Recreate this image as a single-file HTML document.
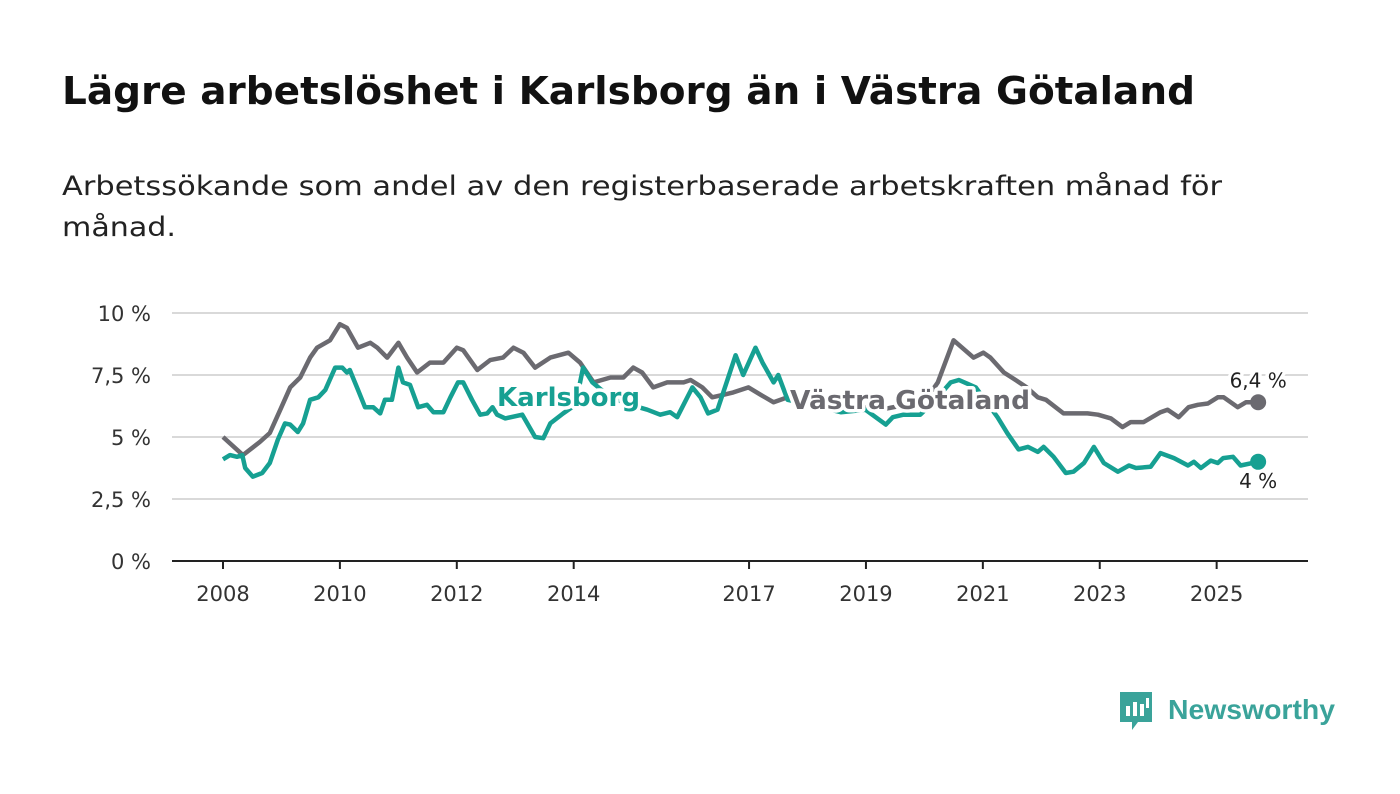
<!DOCTYPE html>
<html><head><meta charset="utf-8">
<style>
body{margin:0;background:#fff;width:1400px;height:794px;overflow:hidden;font-family:"DejaVu Sans","Liberation Sans",sans-serif;}
svg{position:absolute;left:0;top:0}
</style></head>
<body>
<svg width="1400" height="794" font-family="DejaVu Sans, Liberation Sans, sans-serif">
<text x="62" y="104" font-size="38" font-weight="bold" fill="#111" textLength="1133" lengthAdjust="spacingAndGlyphs">Lägre arbetslöshet i Karlsborg än i Västra Götaland</text>
<text x="62" y="195" font-size="27" fill="#222" textLength="1160" lengthAdjust="spacingAndGlyphs">Arbetssökande som andel av den registerbaserade arbetskraften månad för</text>
<text x="62" y="236" font-size="27" fill="#222" textLength="114" lengthAdjust="spacingAndGlyphs">månad.</text>
<g id="grid"></g><g id="xaxis"></g><g id="lines"></g><g id="labels"></g>
<g>
<path d="M1120 692h32v30h-14l-6 8v-8h-12z" fill="#3aa39a"/>
<rect x="1126" y="706" width="4" height="10" fill="#fff"/><rect x="1133" y="702" width="4" height="14" fill="#fff"/><rect x="1140" y="704" width="4" height="12" fill="#fff"/><rect x="1146" y="698" width="3" height="10" fill="#fff"/>
<text x="1168" y="719" font-size="28" font-weight="bold" fill="#3aa39a" textLength="167" lengthAdjust="spacingAndGlyphs" font-family="Liberation Sans, sans-serif">Newsworthy</text>
</g>
</svg>
<script>
const yTicks=[0,2.5,5,7.5,10];
const yTickLabels=["0 %","2,5 %","5 %","7,5 %","10 %"];
const xTicks=[2008,2010,2012,2014,2017,2019,2021,2023,2025];
const vgDates=[2008.0,2008.34,2008.63,2008.80,2008.98,2009.15,2009.32,2009.49,2009.61,2009.83,2010.0,2010.12,2010.31,2010.52,2010.64,2010.81,2011.0,2011.15,2011.32,2011.54,2011.77,2012.0,2012.11,2012.35,2012.57,2012.79,2012.97,2013.14,2013.34,2013.60,2013.91,2014.11,2014.34,2014.63,2014.85,2015.02,2015.17,2015.36,2015.60,2015.88,2016.0,2016.20,2016.37,2016.56,2016.73,2016.99,2017.20,2017.42,2017.66,2018.05,2018.57,2018.99,2019.25,2019.68,2020.02,2020.23,2020.50,2020.84,2021.01,2021.13,2021.36,2021.56,2021.75,2021.94,2022.08,2022.38,2022.79,2022.97,2023.19,2023.39,2023.53,2023.75,2024.04,2024.16,2024.35,2024.52,2024.68,2024.85,2025.02,2025.12,2025.36,2025.50,2025.71];
const vgValues=[5.0,4.27,4.8,5.16,6.1,7.0,7.4,8.2,8.6,8.9,9.55,9.4,8.6,8.8,8.6,8.2,8.8,8.2,7.6,8.0,8.0,8.6,8.5,7.7,8.1,8.2,8.6,8.4,7.8,8.2,8.4,8.0,7.2,7.4,7.4,7.8,7.6,7.0,7.2,7.2,7.3,7.0,6.6,6.7,6.8,7.0,6.7,6.4,6.6,6.3,6.2,6.2,6.1,6.3,6.5,7.2,8.9,8.2,8.4,8.2,7.6,7.3,7.0,6.6,6.5,5.95,5.95,5.9,5.75,5.4,5.6,5.6,6.0,6.1,5.8,6.2,6.3,6.35,6.6,6.6,6.2,6.4,6.4];
const kbDates=[2008.0,2008.12,2008.24,2008.33,2008.38,2008.51,2008.67,2008.80,2008.94,2009.06,2009.15,2009.28,2009.37,2009.49,2009.63,2009.75,2009.92,2010.04,2010.12,2010.17,2010.31,2010.43,2010.57,2010.69,2010.77,2010.89,2011.0,2011.08,2011.20,2011.34,2011.49,2011.60,2011.77,2011.89,2012.02,2012.11,2012.26,2012.40,2012.52,2012.61,2012.69,2012.83,2013.12,2013.34,2013.48,2013.60,2013.82,2014.03,2014.16,2014.32,2014.63,2014.97,2015.26,2015.48,2015.65,2015.77,2016.03,2016.17,2016.30,2016.46,2016.63,2016.77,2016.90,2017.11,2017.23,2017.42,2017.50,2017.66,2018.05,2018.57,2018.99,2019.34,2019.46,2019.64,2019.93,2020.19,2020.45,2020.59,2020.88,2021.25,2021.42,2021.61,2021.77,2021.94,2022.04,2022.21,2022.42,2022.55,2022.73,2022.90,2023.07,2023.31,2023.50,2023.62,2023.87,2024.04,2024.27,2024.51,2024.61,2024.73,2024.90,2025.02,2025.11,2025.28,2025.41,2025.71];
const kbValues=[4.1,4.27,4.2,4.27,3.75,3.4,3.55,3.95,4.9,5.55,5.5,5.2,5.55,6.5,6.6,6.9,7.8,7.8,7.6,7.7,6.9,6.2,6.2,5.95,6.5,6.5,7.8,7.2,7.1,6.2,6.3,6.0,6.0,6.6,7.2,7.2,6.5,5.9,5.95,6.2,5.9,5.75,5.9,5.0,4.95,5.55,5.95,6.3,7.8,7.2,6.6,6.3,6.1,5.9,6.0,5.8,7.0,6.6,5.95,6.1,7.3,8.3,7.5,8.6,8.0,7.2,7.5,6.5,6.3,6.0,6.1,5.5,5.8,5.9,5.9,6.5,7.2,7.3,7.0,5.8,5.15,4.5,4.6,4.4,4.6,4.2,3.55,3.6,3.95,4.6,3.95,3.6,3.85,3.75,3.8,4.35,4.15,3.85,4.0,3.75,4.05,3.95,4.15,4.2,3.85,4.0];
const NS="http://www.w3.org/2000/svg";
const X=d=>223+(d-2008)*58.45;
const Y=v=>561-v*24.8;
function mk(tag,attrs,parent){const e=document.createElementNS(NS,tag);for(const k in attrs)e.setAttribute(k,attrs[k]);parent.appendChild(e);return e;}
const grid=document.getElementById('grid');
yTicks.forEach((t,i)=>{
  if(t>0){const l=mk('line',{x1:172,x2:1308,y1:Y(t),y2:Y(t),stroke:'#d9d9d9','stroke-width':2},grid);
  
  }
  const tx=mk('text',{x:151,y:Y(t)+8,'text-anchor':'end','font-size':21,fill:'#333'},grid);
  tx.textContent=yTickLabels[i];
  
  
});
const xa=document.getElementById('xaxis');
const ax=mk('line',{x1:172,x2:1308,y1:561,y2:561,stroke:'#222','stroke-width':2},xa);


xTicks.forEach(t=>{
  mk('line',{x1:X(t),x2:X(t),y1:561,y2:569,stroke:'#222','stroke-width':2},xa);
  const tx=mk('text',{x:X(t),y:601,'text-anchor':'middle','font-size':21,fill:'#333'},xa);
  tx.textContent=t;
  
  
});
const lines=document.getElementById('lines');
function series(dates,vals,color,name){
  const p=mk('path',{d:dates.map((d,i)=>(i?'L':'M')+X(d).toFixed(1)+' '+Y(vals[i]).toFixed(1)).join(''),fill:'none',stroke:color,'stroke-width':4.5,'stroke-linejoin':'round'},lines);
  
  
  const n=dates.length-1;
  const c=mk('circle',{cx:X(dates[n]),cy:Y(vals[n]),r:8,fill:color},lines);
  
  
  return [X(dates[n]),Y(vals[n])];
}
const vgEnd=series(vgDates,vgValues,'#6b6a70','vastra-gotaland');
const kbEnd=series(kbDates,kbValues,'#16a092','karlsborg');
const lb=document.getElementById('labels');
function label(x,y,txt,attrs,name){
  const t=mk('text',Object.assign({x:x,y:y,stroke:'#fff','stroke-width':7,'paint-order':'stroke','stroke-linejoin':'round'},attrs),lb);
  t.textContent=txt;
  
  
}
label(497,406,'Karlsborg',{'font-size':26,'font-weight':'bold',fill:'#16a092',textLength:143,lengthAdjust:'spacingAndGlyphs'},'karlsborg-label');
label(790,409,'Västra Götaland',{'font-size':26,'font-weight':'bold',fill:'#6b6a70',textLength:240,lengthAdjust:'spacingAndGlyphs'},'vastra-gotaland-label');
label(vgEnd[0],vgEnd[1]-15,'6,4 %',{'font-size':20,fill:'#222','text-anchor':'middle'},'vastra-gotaland-end-value');
label(kbEnd[0],kbEnd[1]+26,'4 %',{'font-size':20,fill:'#222','text-anchor':'middle'},'karlsborg-end-value');
</script>
</body></html>
